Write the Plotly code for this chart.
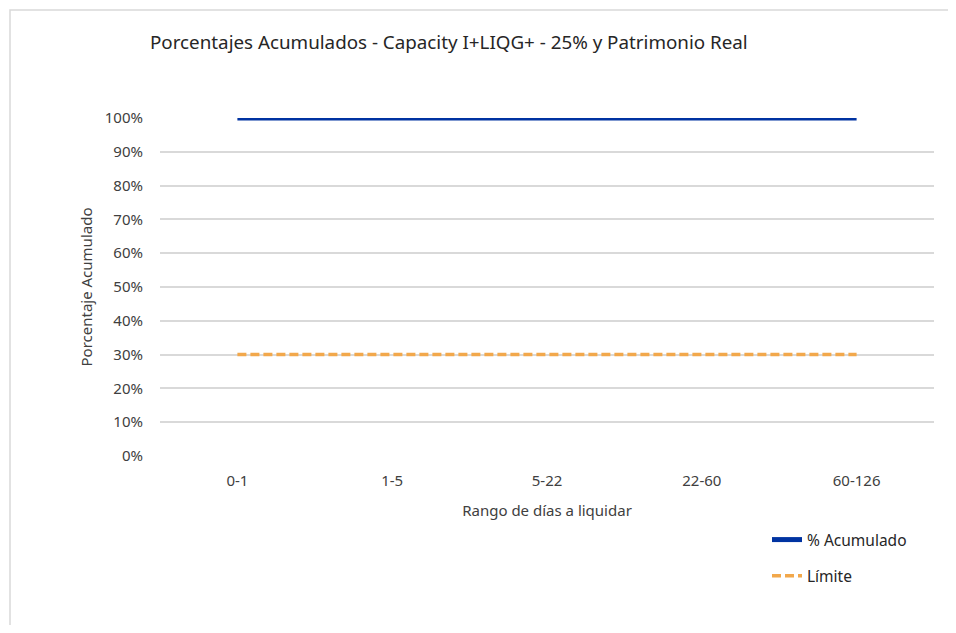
import plotly.graph_objects as go

categories = ["0-1", "1-5", "5-22", "22-60", "60-126"]
acumulado = [1.0, 1.0, 1.0, 1.0, 1.0]
limite = [0.3, 0.3, 0.3, 0.3, 0.3]
y_ticks = [0, 0.1, 0.2, 0.3, 0.4, 0.5, 0.6, 0.7, 0.8, 0.9, 1.0]
y_labels = ["0%", "10%", "20%", "30%", "40%", "50%", "60%", "70%", "80%", "90%", "100%"]

# page body has an 8px margin; work in figure coordinates
OFF = 8
W, H = 956 - 2 * OFF, 633 - 2 * OFF
L, T = 160 - OFF, 118 - OFF
R = W - (934 - OFF)
B = H - (456 - OFF)
pw, ph = W - L - R, H - T - B

def px_x(p):
    return (p - OFF - L) / pw

def px_y(p):
    return (H - B - (p - OFF)) / ph

font = "Noto Sans"
fig = go.Figure()
fig.add_trace(go.Scatter(x=categories, y=acumulado, mode="lines", name="% Acumulado",
                         line=dict(color="#0033A1", width=5), legendgroup="a"))
fig.add_trace(go.Scatter(x=categories, y=limite, mode="lines", name="Límite",
                         line=dict(color="#F2A84B", width=3.5, dash="9px,4px"), legendgroup="b"))

fig.update_layout(
    width=W, height=H,
    margin=dict(l=L, r=R, t=T, b=B),
    paper_bgcolor="white", plot_bgcolor="white",
    font=dict(family=font, size=15, color="#404040"),
    title=dict(text="Porcentajes Acumulados - Capacity I+LIQG+ - 25% y Patrimonio Real",
               x=(150 - OFF) / W, xanchor="left", y=1 - (42 - OFF) / H, yanchor="middle",
               font=dict(family=font, size=18.8, color="#262626")),
    xaxis=dict(type="category", range=[-0.5, 4.5], showgrid=False, zeroline=False,
               showline=False, ticks="", ticklabelstandoff=14,
               tickfont=dict(size=15, color="#404040"),
               title=dict(text="Rango de días a liquidar", font=dict(size=15, color="#404040"), standoff=16)),
    yaxis=dict(range=[0, 1], tickvals=y_ticks, ticktext=y_labels, showgrid=True,
               gridcolor="#D9D9D9", gridwidth=1.5, zeroline=False, showline=False,
               ticks="", ticklabelstandoff=16, tickfont=dict(size=15, color="#404040"),
               title=dict(text="Porcentaje Acumulado", font=dict(size=15, color="#404040"), standoff=8)),
    showlegend=True,
    legend=dict(x=px_x(767), y=px_y(523), xanchor="left", yanchor="top",
                tracegroupgap=13, font=dict(size=15.5, color="#262626"),
                bgcolor="rgba(0,0,0,0)"),
    shapes=[dict(type="rect", xref="paper", yref="paper",
                 x0=px_x(10), x1=px_x(970), y0=px_y(650), y1=px_y(10),
                 line=dict(color="#D9D9D9", width=1.5), fillcolor="rgba(0,0,0,0)", layer="below")],
)

fig.write_html("out.html")
